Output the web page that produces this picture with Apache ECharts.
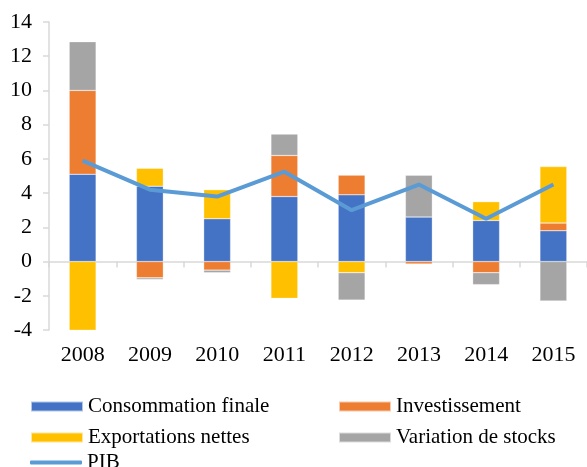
<!DOCTYPE html>
<html>
<head>
<meta charset="utf-8">
<script src="https://cdn.jsdelivr.net/npm/echarts@6/dist/echarts.min.js"></script>
<style>
  html, body { margin: 0; padding: 0; background: #fff; }
  #chart { width: 587px; height: 467px; }
</style>
</head>
<body>
<div id="chart"></div>
<script>
// données
const years = ['2008', '2009', '2010', '2011', '2012', '2013', '2014', '2015'];
const consommation = [5.1, 4.4, 2.5, 3.8, 3.9, 2.6, 2.4, 1.8];
const investissement = [4.9, -0.95, -0.5, 2.4, 1.15, -0.15, -0.65, 0.45];
const exportations = [-4.15, 1.05, 1.7, -2.15, -0.65, 0, 1.1, 3.3];
const stocks = [2.85, -0.1, -0.15, 1.25, -1.6, 2.45, -0.7, -2.3];
const pib = [5.9, 4.2, 3.8, 5.25, 3.0, 4.5, 2.5, 4.5];
const yTicks = { min: -4, max: 14, interval: 2 };

const font = 'Liberation Serif';
const chart = echarts.init(document.getElementById('chart'));

function barSerie(name, data, color) {
  return {
    name: name,
    type: 'bar',
    stack: 'total',
    barWidth: '40%',
    data: data,
    itemStyle: { color: color, borderColor: 'rgba(255,255,255,0.6)', borderWidth: 0.5 }
  };
}

const legendText = { fontFamily: font, fontSize: 21, color: '#000', lineHeight: 18, padding: [0, 0, 0, 0] };

const option = {
  animation: false,
  grid: { left: 49, right: -13, top: 22, bottom: 137 },
  xAxis: [{
    type: 'category',
    data: years,
    axisLine: { onZero: true, lineStyle: { color: '#d9d9d9', width: 1.5 } },
    axisTick: { show: true, length: 6, lineStyle: { color: '#d9d9d9', width: 1.5 } },
    axisLabel: { show: false }
  }, {
    type: 'category',
    data: years,
    position: 'bottom',
    axisLine: { show: false },
    axisTick: { show: false },
    axisLabel: { margin: 14, fontFamily: font, fontSize: 22, color: '#000' }
  }],
  yAxis: {
    type: 'value',
    min: yTicks.min,
    max: yTicks.max,
    interval: yTicks.interval,
    splitLine: { show: false },
    axisLine: { show: true, lineStyle: { color: '#d9d9d9', width: 1.5 } },
    axisTick: { show: true, length: 6, lineStyle: { color: '#d9d9d9', width: 1.5 } },
    axisLabel: { margin: 17, fontFamily: font, fontSize: 22, color: '#000' }
  },
  legend: [{
    left: 30, top: 396, orient: 'vertical', itemGap: 10, padding: 0,
    itemWidth: 52, itemHeight: 10, icon: 'rect',
    textStyle: legendText,
    data: ['Consommation finale', 'Exportations nettes']
  }, {
    left: 338, top: 396, orient: 'vertical', itemGap: 10, padding: 0,
    itemWidth: 52, itemHeight: 10, icon: 'rect',
    textStyle: legendText,
    data: ['Investissement', 'Variation de stocks']
  }, {
    left: 30, top: 452, padding: 0,
    itemWidth: 52, itemHeight: 4, icon: 'roundRect',
    textStyle: legendText,
    data: ['PIB']
  }],
  series: [
    barSerie('Consommation finale', consommation, '#4472C4'),
    barSerie('Investissement', investissement, '#ED7D31'),
    barSerie('Exportations nettes', exportations, '#FFC000'),
    barSerie('Variation de stocks', stocks, '#A5A5A5'),
    {
      name: 'PIB',
      type: 'line',
      data: pib,
      symbol: 'none',
      z: 5,
      lineStyle: { color: '#5B9BD5', width: 4 },
      itemStyle: { color: '#5B9BD5' }
    }
  ]
};

chart.setOption(option);
</script>
</body>
</html>
